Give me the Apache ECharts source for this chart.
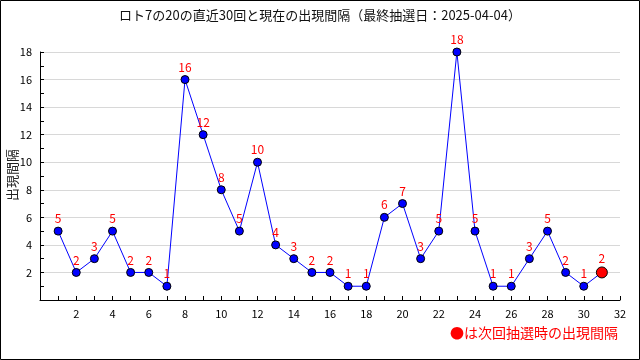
<!DOCTYPE html>
<html><head><meta charset="utf-8">
<script src="https://cdn.jsdelivr.net/npm/echarts@6/dist/echarts.min.js"></script>
<style>html,body{margin:0;padding:0;background:#fff}#c{width:640px;height:360px}</style>
</head><body><div id="c"></div>
<script>
const titleText = 'ロト7の20の直近30回と現在の出現間隔（最終抽選日：2025-04-04）';
const yName = '出現間隔';
const noteText = '●は次回抽選時の出現間隔';
const draws = [1,2,3,4,5,6,7,8,9,10,11,12,13,14,15,16,17,18,19,20,21,22,23,24,25,26,27,28,29,30];
const intervals = [5,2,3,5,2,2,1,16,12,8,5,10,4,3,2,2,1,1,6,7,3,5,18,5,1,1,3,5,2,1];
const currentX = 31;
const currentVal = 2;

const font = '"Noto Sans CJK JP", "DejaVu Sans", sans-serif';
const past = draws.map((d,i)=>[d, intervals[i]]);
const chart = echarts.init(document.getElementById('c'));
chart.setOption({
  animation:false,
  backgroundColor:'#fff',
  title:{text:titleText,left:'center',top:4,textStyle:{fontFamily:font,fontSize:13,fontWeight:'normal',color:'#111'}},
  grid:{left:40,right:20,top:52,bottom:60},
  xAxis:{type:'value',min:0,max:32,interval:2,
    axisLine:{onZero:false,lineStyle:{color:'#000',width:1}},
    axisTick:{show:true,inside:true,length:4,lineStyle:{color:'#000'}},
    minorTick:{show:true,splitNumber:2,length:4,lineStyle:{color:'#000'}},
    axisLabel:{showMinLabel:false,fontFamily:font,fontSize:11,color:'#000',margin:8},
    splitLine:{show:false}},
  yAxis:{type:'value',min:0,max:18,interval:2,
    axisLine:{show:true,lineStyle:{color:'#000',width:1}},
    axisTick:{show:true,inside:true,length:4,lineStyle:{color:'#000'}},
    minorTick:{show:true,splitNumber:2,length:4,lineStyle:{color:'#000'}},
    axisLabel:{showMinLabel:false,fontFamily:font,fontSize:11,color:'#000',margin:8},
    splitLine:{show:true,showMinLine:false,showMaxLine:true,lineStyle:{color:'#d8d8d8',width:1}}},
  series:[
    {type:'line',data:past.concat([[currentX,currentVal]]),symbol:'none',lineStyle:{color:'#0000ff',width:1},z:2},
    {type:'scatter',data:past,symbol:'circle',symbolSize:8,
      itemStyle:{color:'#0000ff',opacity:1,borderColor:'#000',borderWidth:1},
      label:{show:true,position:'top',distance:2,color:'#ff0000',fontFamily:font,fontSize:12,formatter:p=>p.value[1]},z:3},
    {type:'scatter',data:[[currentX,currentVal]],symbol:'circle',symbolSize:11,
      itemStyle:{color:'#ff0000',opacity:1,borderColor:'#000',borderWidth:1},
      label:{show:true,position:'top',distance:2,color:'#ff0000',fontFamily:font,fontSize:12,formatter:p=>p.value[1]},z:3}
  ],
  graphic:[
    {type:'rect',shape:{x:0.5,y:0.5,width:639,height:359},style:{fill:null,stroke:'#000',lineWidth:1},silent:true},
    {type:'text',x:12,y:175,rotation:Math.PI/2,style:{text:yName,fontFamily:font,fontSize:13,fill:'#222',textAlign:'center',textVerticalAlign:'middle'}},
    {type:'text',right:22,top:326,style:{text:noteText,fontFamily:font,fontSize:14,fill:'#ff0000'}}
  ]
});
</script></body></html>
